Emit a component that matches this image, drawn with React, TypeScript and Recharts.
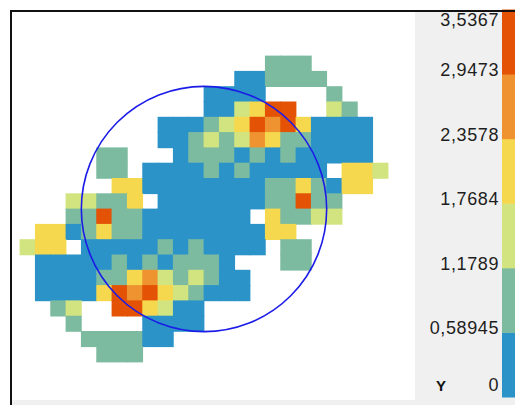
import React from "react";
import { ScatterChart, Scatter, XAxis, YAxis, ReferenceDot } from "recharts";

const _ = null;

// Grid cell values (rows top to bottom, 24 columns). null = no data.
const row00 = [_,_,_,_,_,_,_,_,_,_,_,_,_,_,_,_,0.9,0.9,0.9,_,_,_,_,_];
const row01 = [_,_,_,_,_,_,_,_,_,_,_,_,_,_,0.35,0.35,0.9,0.9,0.9,0.9,_,_,_,_];
const row02 = [_,_,_,_,_,_,_,_,_,_,_,_,0.35,0.35,0.35,0.35,_,_,_,_,0.9,_,_,_];
const row03 = [_,_,_,_,_,_,_,_,_,_,_,_,0.35,0.35,1.45,2.05,3.25,3.25,_,_,1.45,0.9,_,_];
const row04 = [_,_,_,_,_,_,_,_,_,0.35,0.35,0.35,0.9,1.45,2.05,3.25,2.65,3.25,2.05,0.35,0.35,0.35,0.35,_];
const row05 = [_,_,_,_,_,_,_,_,_,0.35,0.35,0.9,1.45,0.9,1.45,2.65,2.05,0.9,0.9,0.35,0.35,0.35,0.35,_];
const row06 = [_,_,_,_,_,0.9,0.9,_,_,_,0.35,0.9,0.9,0.9,0.35,0.9,0.35,0.9,0.35,0.35,0.35,0.35,0.35,_];
const row07 = [_,_,_,_,_,0.9,0.9,_,0.35,0.35,0.35,0.35,0.9,0.35,0.9,0.35,0.35,0.35,0.35,0.35,_,2.05,2.05,1.45];
const row08 = [_,_,_,_,_,_,2.05,2.05,0.35,0.35,0.35,0.35,0.35,0.35,0.35,0.35,0.9,0.9,2.05,0.9,0.35,2.05,2.05,_];
const row09 = [_,_,_,1.45,1.45,0.9,0.9,2.05,_,0.35,0.35,0.35,0.35,0.35,0.35,0.35,0.9,0.9,3.25,0.9,0.9,_,_,_];
const row10 = [_,_,_,0.9,0.9,3.25,0.9,0.9,0.35,0.35,0.35,0.35,0.35,0.35,0.35,_,2.05,0.9,0.9,1.45,1.45,_,_,_];
const row11 = [_,2.05,2.05,0.35,0.9,2.05,0.9,0.9,0.35,0.35,0.35,0.35,0.35,0.35,0.35,0.35,2.05,2.05,_,_,_,_,_,_];
const row12 = [1.45,2.05,2.05,_,0.35,0.35,0.35,0.35,0.35,0.9,0.35,0.9,0.35,0.35,0.35,0.35,_,0.9,0.9,_,_,_,_,_];
const row13 = [_,0.35,0.35,0.35,0.35,0.35,0.9,0.35,0.9,0.35,0.9,0.9,0.9,0.35,_,_,_,0.9,0.9,_,_,_,_,_];
const row14 = [_,0.35,0.35,0.35,0.35,0.9,0.9,2.05,2.65,1.45,0.9,1.45,0.9,0.35,0.35,_,_,_,_,_,_,_,_,_];
const row15 = [_,0.35,0.35,0.35,0.35,2.05,3.25,2.65,3.25,2.05,1.45,0.9,0.35,0.35,0.35,_,_,_,_,_,_,_,_,_];
const row16 = [_,_,0.9,1.45,_,_,3.25,3.25,2.05,1.45,0.35,0.35,_,_,_,_,_,_,_,_,_,_,_,_];
const row17 = [_,_,_,0.9,_,_,_,_,0.35,0.35,0.35,0.35,_,_,_,_,_,_,_,_,_,_,_,_];
const row18 = [_,_,_,_,0.9,0.9,0.9,0.9,0.35,0.35,_,_,_,_,_,_,_,_,_,_,_,_,_,_];
const row19 = [_,_,_,_,_,0.9,0.9,0.9,_,_,_,_,_,_,_,_,_,_,_,_,_,_,_,_];

const gridRows = [row00,row01,row02,row03,row04,row05,row06,row07,row08,row09,row10,row11,row12,row13,row14,row15,row16,row17,row18,row19];

const thresholds = [0, 0.58945, 1.1789, 1.7684, 2.3578, 2.9473, 3.5367];
const tickLabels = ["0", "0,58945", "1,1789", "1,7684", "2,3578", "2,9473", "3,5367"];
const bandColors = ["#2b93c8", "#7dbba0", "#d2e47f", "#f6d84f", "#ee9330", "#e35205"];

const circleCenter = { x: 12, y: 10 };
const circleRadiusCells = 8;

const N_COLS = 24;
const N_ROWS = 20;
const CHART_W = 415;
const CHART_H = 400;
const MARGIN = { top: 56, right: 27, bottom: 38, left: 20 };
const CELL_W = (CHART_W - MARGIN.left - MARGIN.right) / N_COLS;
const CELL_H = (CHART_H - MARGIN.top - MARGIN.bottom) / N_ROWS;

function colorFor(v: number) {
  for (let i = thresholds.length - 2; i >= 0; i--) {
    if (v >= thresholds[i]) return bandColors[i];
  }
  return bandColors[0];
}

const cells: { x: number; y: number; z: number }[] = [];
gridRows.forEach((row, r) => {
  row.forEach((v, c) => {
    if (v !== null && v !== undefined) cells.push({ x: c + 0.5, y: r + 0.5, z: v as number });
  });
});

const CellShape = (props: any) => {
  const { cx, cy, payload } = props;
  if (cx == null || cy == null) return null;
  return (
    <rect
      x={cx - CELL_W / 2 - 0.4}
      y={cy - CELL_H / 2 - 0.4}
      width={CELL_W + 0.8}
      height={CELL_H + 0.8}
      fill={colorFor(payload.z)}
      stroke="none"
    />
  );
};

export default function App() {
  const barX = 502;
  const barTop = 9.5;
  const barBottom = 397;
  const bandH = (barBottom - barTop) / bandColors.length;
  const labelY = (i: number) => {
    if (i === 0) return 385;
    if (i === thresholds.length - 1) return 20;
    return barBottom - i * bandH - 4;
  };
  return (
    <div style={{ position: "absolute", left: 0, top: 0, width: 515, height: 405, background: "#fff", overflow: "hidden" }}>
      <div style={{ position: "absolute", left: 0, top: 0 }}>
        <ScatterChart width={CHART_W} height={CHART_H} margin={MARGIN}>
          <XAxis type="number" dataKey="x" domain={[0, N_COLS]} hide />
          <YAxis type="number" dataKey="y" domain={[0, N_ROWS]} reversed hide />
          <Scatter data={cells} shape={<CellShape />} isAnimationActive={false} />
          <ReferenceDot
            x={circleCenter.x}
            y={circleCenter.y}
            r={circleRadiusCells * CELL_W}
            fill="none"
            stroke="#1c1ce8"
            strokeWidth={1.6}
            ifOverflow="visible"
          />
        </ScatterChart>
      </div>
      <svg width={515} height={405} style={{ position: "absolute", left: 0, top: 0 }}>
        <rect x={415} y={12} width={100} height={388} fill="#f0f0f0" />
        <rect x={12} y={400} width={503} height={5} fill="#f0f0f0" />
        {bandColors.map((c, i) => (
          <rect key={i} x={barX} y={barBottom - (i + 1) * bandH} width={13} height={bandH + 0.5} fill={c} />
        ))}
        {tickLabels.map((t, i) => (
          <text
            key={t}
            x={499}
            y={labelY(i)}
            textAnchor="end"
            dominantBaseline="central"
            fontFamily="Liberation Sans, Arial, sans-serif"
            fontSize={18}
            letterSpacing={0.6}
            fill="#1e1e1e"
          >
            {t}
          </text>
        ))}
        <text x={436} y={385} dominantBaseline="central" fontFamily="Liberation Sans, Arial, sans-serif" fontSize={15} fontWeight="bold" fill="#111">
          Y
        </text>
        <rect x={10} y={10} width={505} height={2} fill="#111" />
        <rect x={10} y={10} width={2} height={395} fill="#111" />
      </svg>
    </div>
  );
}
